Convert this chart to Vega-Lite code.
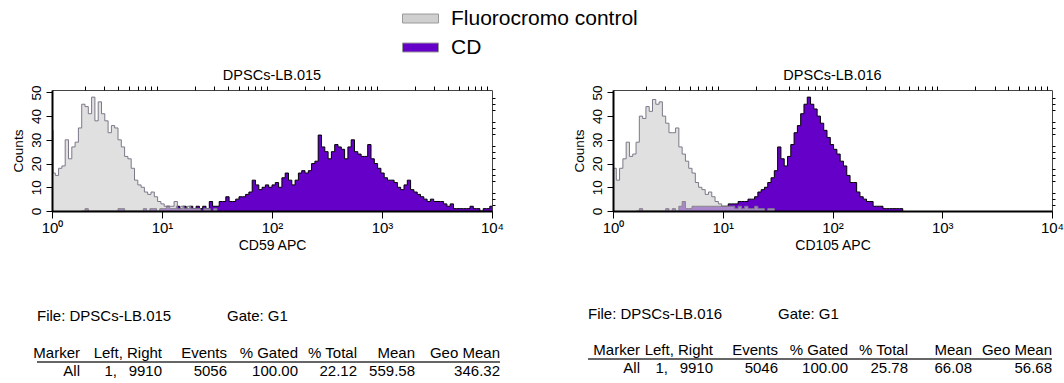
{
"$schema": "https://vega.github.io/schema/vega-lite/v6.json",
"padding": {"left": 10, "top": 0, "right": 2, "bottom": 2},
"config": {
 "font": "Liberation Sans",
 "view": {"stroke": "#444", "strokeWidth": 1},
 "title": {"fontSize": 14.5, "fontWeight": "normal", "offset": 1, "frame": "group", "color": "black", "font": "Liberation Sans"},
 "axis": {"grid": false, "labelColor": "black", "tickColor": "black", "domainColor": "black", "titleColor": "black", "titleFontWeight": "normal", "labelFont": "Liberation Sans", "titleFont": "Liberation Sans"}
},
"datasets": {
 "h015": [
  {"series":"Fluorocromo control","logv":0.00,"counts":34},{"series":"Fluorocromo control","logv":0.01,"counts":16},{"series":"Fluorocromo control","logv":0.03,"counts":15},{"series":"Fluorocromo control","logv":0.06,"counts":18},{"series":"Fluorocromo control","logv":0.09,"counts":19},{"series":"Fluorocromo control","logv":0.12,"counts":30},{"series":"Fluorocromo control","logv":0.15,"counts":22},{"series":"Fluorocromo control","logv":0.18,"counts":27},{"series":"Fluorocromo control","logv":0.21,"counts":29},{"series":"Fluorocromo control","logv":0.24,"counts":35},{"series":"Fluorocromo control","logv":0.27,"counts":45},{"series":"Fluorocromo control","logv":0.30,"counts":44},{"series":"Fluorocromo control","logv":0.33,"counts":41},{"series":"Fluorocromo control","logv":0.36,"counts":48},{"series":"Fluorocromo control","logv":0.39,"counts":38},{"series":"Fluorocromo control","logv":0.42,"counts":46},{"series":"Fluorocromo control","logv":0.45,"counts":41},{"series":"Fluorocromo control","logv":0.48,"counts":38},{"series":"Fluorocromo control","logv":0.51,"counts":33},{"series":"Fluorocromo control","logv":0.54,"counts":36},{"series":"Fluorocromo control","logv":0.57,"counts":35},{"series":"Fluorocromo control","logv":0.60,"counts":30},{"series":"Fluorocromo control","logv":0.63,"counts":27},{"series":"Fluorocromo control","logv":0.66,"counts":23},{"series":"Fluorocromo control","logv":0.69,"counts":22},{"series":"Fluorocromo control","logv":0.72,"counts":18},{"series":"Fluorocromo control","logv":0.75,"counts":13},{"series":"Fluorocromo control","logv":0.78,"counts":11},{"series":"Fluorocromo control","logv":0.81,"counts":10},{"series":"Fluorocromo control","logv":0.84,"counts":8},{"series":"Fluorocromo control","logv":0.87,"counts":7},{"series":"Fluorocromo control","logv":0.90,"counts":8},{"series":"Fluorocromo control","logv":0.93,"counts":6},{"series":"Fluorocromo control","logv":0.96,"counts":4},{"series":"Fluorocromo control","logv":0.99,"counts":3},{"series":"Fluorocromo control","logv":1.02,"counts":2},{"series":"Fluorocromo control","logv":1.05,"counts":2},{"series":"Fluorocromo control","logv":1.08,"counts":2},{"series":"Fluorocromo control","logv":1.11,"counts":4},{"series":"Fluorocromo control","logv":1.14,"counts":1},{"series":"Fluorocromo control","logv":1.17,"counts":2},{"series":"Fluorocromo control","logv":1.20,"counts":1},{"series":"Fluorocromo control","logv":1.23,"counts":2},{"series":"Fluorocromo control","logv":1.26,"counts":1},{"series":"Fluorocromo control","logv":1.29,"counts":1},{"series":"Fluorocromo control","logv":1.32,"counts":1},{"series":"Fluorocromo control","logv":1.35,"counts":0},{"series":"Fluorocromo control","logv":1.38,"counts":1},{"series":"Fluorocromo control","logv":1.41,"counts":1},{"series":"Fluorocromo control","logv":1.44,"counts":0},{"series":"Fluorocromo control","logv":1.47,"counts":1},{"series":"Fluorocromo control","logv":1.50,"counts":0},
  {"series":"CD","logv":0.27,"counts":0},{"series":"CD","logv":0.30,"counts":1},{"series":"CD","logv":0.33,"counts":0},{"series":"CD","logv":0.57,"counts":0},{"series":"CD","logv":0.60,"counts":1},{"series":"CD","logv":0.63,"counts":1},{"series":"CD","logv":0.66,"counts":0},{"series":"CD","logv":0.80,"counts":0},{"series":"CD","logv":0.83,"counts":1},{"series":"CD","logv":0.86,"counts":0},{"series":"CD","logv":0.89,"counts":1},{"series":"CD","logv":0.92,"counts":1},{"series":"CD","logv":0.95,"counts":0},{"series":"CD","logv":0.98,"counts":1},{"series":"CD","logv":1.01,"counts":1},{"series":"CD","logv":1.04,"counts":2},{"series":"CD","logv":1.07,"counts":1},{"series":"CD","logv":1.10,"counts":1},{"series":"CD","logv":1.13,"counts":2},{"series":"CD","logv":1.16,"counts":1},{"series":"CD","logv":1.19,"counts":2},{"series":"CD","logv":1.22,"counts":1},{"series":"CD","logv":1.25,"counts":2},{"series":"CD","logv":1.28,"counts":1},{"series":"CD","logv":1.31,"counts":2},{"series":"CD","logv":1.34,"counts":1},{"series":"CD","logv":1.37,"counts":2},{"series":"CD","logv":1.40,"counts":1},{"series":"CD","logv":1.43,"counts":4},{"series":"CD","logv":1.46,"counts":2},{"series":"CD","logv":1.49,"counts":2},{"series":"CD","logv":1.52,"counts":4},{"series":"CD","logv":1.55,"counts":4},{"series":"CD","logv":1.58,"counts":6},{"series":"CD","logv":1.61,"counts":4},{"series":"CD","logv":1.64,"counts":4},{"series":"CD","logv":1.67,"counts":5},{"series":"CD","logv":1.70,"counts":6},{"series":"CD","logv":1.73,"counts":6},{"series":"CD","logv":1.76,"counts":7},{"series":"CD","logv":1.79,"counts":8},{"series":"CD","logv":1.82,"counts":13},{"series":"CD","logv":1.85,"counts":11},{"series":"CD","logv":1.88,"counts":9},{"series":"CD","logv":1.91,"counts":10},{"series":"CD","logv":1.94,"counts":11},{"series":"CD","logv":1.97,"counts":10},{"series":"CD","logv":2.00,"counts":11},{"series":"CD","logv":2.03,"counts":12},{"series":"CD","logv":2.06,"counts":10},{"series":"CD","logv":2.09,"counts":14},{"series":"CD","logv":2.12,"counts":16},{"series":"CD","logv":2.15,"counts":13},{"series":"CD","logv":2.18,"counts":11},{"series":"CD","logv":2.21,"counts":13},{"series":"CD","logv":2.24,"counts":16},{"series":"CD","logv":2.27,"counts":17},{"series":"CD","logv":2.30,"counts":16},{"series":"CD","logv":2.33,"counts":17},{"series":"CD","logv":2.36,"counts":20},{"series":"CD","logv":2.39,"counts":21},{"series":"CD","logv":2.42,"counts":32},{"series":"CD","logv":2.45,"counts":27},{"series":"CD","logv":2.48,"counts":25},{"series":"CD","logv":2.51,"counts":22},{"series":"CD","logv":2.54,"counts":25},{"series":"CD","logv":2.57,"counts":28},{"series":"CD","logv":2.60,"counts":27},{"series":"CD","logv":2.63,"counts":26},{"series":"CD","logv":2.66,"counts":22},{"series":"CD","logv":2.69,"counts":27},{"series":"CD","logv":2.72,"counts":30},{"series":"CD","logv":2.75,"counts":25},{"series":"CD","logv":2.78,"counts":24},{"series":"CD","logv":2.81,"counts":23},{"series":"CD","logv":2.84,"counts":23},{"series":"CD","logv":2.87,"counts":28},{"series":"CD","logv":2.90,"counts":22},{"series":"CD","logv":2.93,"counts":20},{"series":"CD","logv":2.96,"counts":18},{"series":"CD","logv":2.99,"counts":16},{"series":"CD","logv":3.02,"counts":14},{"series":"CD","logv":3.05,"counts":13},{"series":"CD","logv":3.08,"counts":13},{"series":"CD","logv":3.11,"counts":12},{"series":"CD","logv":3.14,"counts":10},{"series":"CD","logv":3.17,"counts":9},{"series":"CD","logv":3.20,"counts":11},{"series":"CD","logv":3.23,"counts":13},{"series":"CD","logv":3.26,"counts":9},{"series":"CD","logv":3.29,"counts":8},{"series":"CD","logv":3.32,"counts":7},{"series":"CD","logv":3.35,"counts":6},{"series":"CD","logv":3.38,"counts":5},{"series":"CD","logv":3.41,"counts":4},{"series":"CD","logv":3.44,"counts":5},{"series":"CD","logv":3.47,"counts":4},{"series":"CD","logv":3.50,"counts":4},{"series":"CD","logv":3.53,"counts":4},{"series":"CD","logv":3.56,"counts":3},{"series":"CD","logv":3.59,"counts":2},{"series":"CD","logv":3.62,"counts":3},{"series":"CD","logv":3.65,"counts":1},{"series":"CD","logv":3.68,"counts":1},{"series":"CD","logv":3.71,"counts":1},{"series":"CD","logv":3.74,"counts":1},{"series":"CD","logv":3.77,"counts":1},{"series":"CD","logv":3.80,"counts":2},{"series":"CD","logv":3.83,"counts":1},{"series":"CD","logv":3.86,"counts":1},{"series":"CD","logv":3.89,"counts":0},{"series":"CD","logv":3.92,"counts":1},{"series":"CD","logv":3.95,"counts":1},{"series":"CD","logv":3.98,"counts":2},{"series":"CD","logv":4.00,"counts":2}
 ],
 "h016": [
  {"series":"Fluorocromo control","logv":0.00,"counts":18},{"series":"Fluorocromo control","logv":0.03,"counts":13},{"series":"Fluorocromo control","logv":0.06,"counts":18},{"series":"Fluorocromo control","logv":0.09,"counts":22},{"series":"Fluorocromo control","logv":0.12,"counts":29},{"series":"Fluorocromo control","logv":0.15,"counts":23},{"series":"Fluorocromo control","logv":0.18,"counts":24},{"series":"Fluorocromo control","logv":0.21,"counts":29},{"series":"Fluorocromo control","logv":0.24,"counts":40},{"series":"Fluorocromo control","logv":0.27,"counts":39},{"series":"Fluorocromo control","logv":0.30,"counts":44},{"series":"Fluorocromo control","logv":0.33,"counts":42},{"series":"Fluorocromo control","logv":0.36,"counts":47},{"series":"Fluorocromo control","logv":0.39,"counts":45},{"series":"Fluorocromo control","logv":0.42,"counts":46},{"series":"Fluorocromo control","logv":0.45,"counts":40},{"series":"Fluorocromo control","logv":0.48,"counts":37},{"series":"Fluorocromo control","logv":0.51,"counts":33},{"series":"Fluorocromo control","logv":0.54,"counts":33},{"series":"Fluorocromo control","logv":0.57,"counts":35},{"series":"Fluorocromo control","logv":0.60,"counts":27},{"series":"Fluorocromo control","logv":0.63,"counts":24},{"series":"Fluorocromo control","logv":0.66,"counts":21},{"series":"Fluorocromo control","logv":0.69,"counts":18},{"series":"Fluorocromo control","logv":0.72,"counts":16},{"series":"Fluorocromo control","logv":0.75,"counts":12},{"series":"Fluorocromo control","logv":0.78,"counts":10},{"series":"Fluorocromo control","logv":0.81,"counts":9},{"series":"Fluorocromo control","logv":0.84,"counts":7},{"series":"Fluorocromo control","logv":0.87,"counts":8},{"series":"Fluorocromo control","logv":0.90,"counts":6},{"series":"Fluorocromo control","logv":0.93,"counts":4},{"series":"Fluorocromo control","logv":0.96,"counts":3},{"series":"Fluorocromo control","logv":0.99,"counts":2},{"series":"Fluorocromo control","logv":1.02,"counts":2},{"series":"Fluorocromo control","logv":1.05,"counts":2},{"series":"Fluorocromo control","logv":1.08,"counts":2},{"series":"Fluorocromo control","logv":1.11,"counts":1},{"series":"Fluorocromo control","logv":1.14,"counts":2},{"series":"Fluorocromo control","logv":1.17,"counts":1},{"series":"Fluorocromo control","logv":1.20,"counts":2},{"series":"Fluorocromo control","logv":1.23,"counts":1},{"series":"Fluorocromo control","logv":1.26,"counts":1},{"series":"Fluorocromo control","logv":1.29,"counts":2},{"series":"Fluorocromo control","logv":1.32,"counts":1},{"series":"Fluorocromo control","logv":1.35,"counts":1},{"series":"Fluorocromo control","logv":1.38,"counts":0},{"series":"Fluorocromo control","logv":1.41,"counts":1},{"series":"Fluorocromo control","logv":1.44,"counts":1},{"series":"Fluorocromo control","logv":1.47,"counts":0},
  {"series":"CD","logv":0.21,"counts":0},{"series":"CD","logv":0.24,"counts":1},{"series":"CD","logv":0.27,"counts":0},{"series":"CD","logv":0.48,"counts":1},{"series":"CD","logv":0.51,"counts":0},{"series":"CD","logv":0.54,"counts":1},{"series":"CD","logv":0.57,"counts":0},{"series":"CD","logv":0.60,"counts":2},{"series":"CD","logv":0.63,"counts":4},{"series":"CD","logv":0.66,"counts":1},{"series":"CD","logv":0.69,"counts":1},{"series":"CD","logv":0.72,"counts":2},{"series":"CD","logv":0.75,"counts":2},{"series":"CD","logv":0.78,"counts":2},{"series":"CD","logv":0.81,"counts":2},{"series":"CD","logv":0.84,"counts":2},{"series":"CD","logv":0.87,"counts":2},{"series":"CD","logv":0.90,"counts":2},{"series":"CD","logv":0.93,"counts":2},{"series":"CD","logv":0.96,"counts":2},{"series":"CD","logv":0.99,"counts":2},{"series":"CD","logv":1.02,"counts":2},{"series":"CD","logv":1.05,"counts":3},{"series":"CD","logv":1.08,"counts":3},{"series":"CD","logv":1.11,"counts":3},{"series":"CD","logv":1.14,"counts":4},{"series":"CD","logv":1.17,"counts":4},{"series":"CD","logv":1.20,"counts":4},{"series":"CD","logv":1.23,"counts":5},{"series":"CD","logv":1.26,"counts":5},{"series":"CD","logv":1.29,"counts":6},{"series":"CD","logv":1.32,"counts":8},{"series":"CD","logv":1.35,"counts":9},{"series":"CD","logv":1.38,"counts":10},{"series":"CD","logv":1.41,"counts":12},{"series":"CD","logv":1.44,"counts":14},{"series":"CD","logv":1.47,"counts":17},{"series":"CD","logv":1.50,"counts":27},{"series":"CD","logv":1.53,"counts":22},{"series":"CD","logv":1.56,"counts":19},{"series":"CD","logv":1.59,"counts":23},{"series":"CD","logv":1.62,"counts":28},{"series":"CD","logv":1.65,"counts":33},{"series":"CD","logv":1.68,"counts":36},{"series":"CD","logv":1.71,"counts":41},{"series":"CD","logv":1.74,"counts":45},{"series":"CD","logv":1.77,"counts":48},{"series":"CD","logv":1.80,"counts":45},{"series":"CD","logv":1.83,"counts":43},{"series":"CD","logv":1.86,"counts":40},{"series":"CD","logv":1.89,"counts":37},{"series":"CD","logv":1.92,"counts":34},{"series":"CD","logv":1.95,"counts":31},{"series":"CD","logv":1.98,"counts":28},{"series":"CD","logv":2.01,"counts":26},{"series":"CD","logv":2.04,"counts":24},{"series":"CD","logv":2.07,"counts":21},{"series":"CD","logv":2.10,"counts":19},{"series":"CD","logv":2.13,"counts":15},{"series":"CD","logv":2.16,"counts":12},{"series":"CD","logv":2.19,"counts":12},{"series":"CD","logv":2.22,"counts":8},{"series":"CD","logv":2.25,"counts":6},{"series":"CD","logv":2.28,"counts":5},{"series":"CD","logv":2.31,"counts":4},{"series":"CD","logv":2.34,"counts":4},{"series":"CD","logv":2.37,"counts":2},{"series":"CD","logv":2.40,"counts":2},{"series":"CD","logv":2.43,"counts":2},{"series":"CD","logv":2.46,"counts":1},{"series":"CD","logv":2.49,"counts":1},{"series":"CD","logv":2.52,"counts":1},{"series":"CD","logv":2.55,"counts":1},{"series":"CD","logv":2.58,"counts":1},{"series":"CD","logv":2.61,"counts":1},{"series":"CD","logv":2.64,"counts":0}
 ],
 "t015": [
  {"kind":"file","line":1,"col":0,"text":"File: DPSCs-LB.015"},{"kind":"file","line":1,"col":3,"text":"Gate: G1"},
  {"kind":"cell","line":2,"col":1,"text":"Marker"},{"kind":"cell","line":2,"col":2,"text":"Left, Right"},{"kind":"cell","line":2,"col":3,"text":"Events"},{"kind":"cell","line":2,"col":4,"text":"% Gated"},{"kind":"cell","line":2,"col":5,"text":"% Total"},{"kind":"cell","line":2,"col":6,"text":"Mean"},{"kind":"cell","line":2,"col":7,"text":"Geo Mean"},
  {"kind":"cell","line":3,"col":1,"text":"All"},{"kind":"cell","line":3,"col":2,"text":"1,\u2002 9910"},{"kind":"cell","line":3,"col":3,"text":"5056"},{"kind":"cell","line":3,"col":4,"text":"100.00"},{"kind":"cell","line":3,"col":5,"text":"22.12"},{"kind":"cell","line":3,"col":6,"text":"559.58"},{"kind":"cell","line":3,"col":7,"text":"346.32"}
 ],
 "t016": [
  {"kind":"file","line":1,"col":0,"text":"File: DPSCs-LB.016"},{"kind":"file","line":1,"col":3,"text":"Gate: G1"},
  {"kind":"cell","line":2,"col":1,"text":"Marker"},{"kind":"cell","line":2,"col":2,"text":"Left, Right"},{"kind":"cell","line":2,"col":3,"text":"Events"},{"kind":"cell","line":2,"col":4,"text":"% Gated"},{"kind":"cell","line":2,"col":5,"text":"% Total"},{"kind":"cell","line":2,"col":6,"text":"Mean"},{"kind":"cell","line":2,"col":7,"text":"Geo Mean"},
  {"kind":"cell","line":3,"col":1,"text":"All"},{"kind":"cell","line":3,"col":2,"text":"1,\u2002 9910"},{"kind":"cell","line":3,"col":3,"text":"5046"},{"kind":"cell","line":3,"col":4,"text":"100.00"},{"kind":"cell","line":3,"col":5,"text":"25.78"},{"kind":"cell","line":3,"col":6,"text":"66.08"},{"kind":"cell","line":3,"col":7,"text":"56.68"}
 ]
},
"columns": 2,
"spacing": {"row": 98, "column": 121},
"bounds": "flush",
"concat": [
 {
  "width": 440, "height": 121,
  "title": {"text": "DPSCs-LB.015"},
  "data": {"name": "h015"},
  "resolve": {"axis": {"x": "independent", "y": "independent"}},
  "layer": [
   {"transform": [{"filter": "datum.series === 'CD'"}],
    "mark": {"type": "area", "interpolate": "step-after"},
    "encoding": {
     "x": {"field": "logv", "type": "quantitative", "scale": {"domain": [0, 4], "nice": false, "zero": false},
       "axis": {"values": [0, 1, 2, 3, 4], "labelExpr": "'10' + ['⁰','¹','²','³','⁴'][datum.value]", "labelFontSize": 15, "labelFlush": false, "labelOverlap": false, "tickSize": 7, "domainWidth": 2, "labelPadding": 2, "title": "CD59 APC", "titleFontSize": 14, "titlePadding": 3, "zindex": 1}},
     "y": {"field": "counts", "type": "quantitative", "stack": null, "scale": {"domain": [0, 51], "nice": false},
       "axis": {"values": [0, 10, 20, 30, 40, 50], "labelAngle": 270, "labelAlign": "center", "labelBaseline": "bottom", "labelFontSize": 13.5, "tickSize": 6, "domainWidth": 2, "labelPadding": 3, "title": "Counts", "titleFontSize": 13.5, "titlePadding": 4, "zindex": 1}},
     "color": {"field": "series", "type": "nominal",
       "scale": {"domain": ["Fluorocromo control", "CD"], "range": ["#cfcfcf", "#6500c8"]},
       "legend": {"orient": "none", "legendX": 350, "legendY": -90, "title": null, "direction": "vertical", "symbolType": "M-1,-0.25H1V0.25H-1Z", "symbolSize": 1296, "symbolStrokeColor": "#9a9a9a", "symbolStrokeWidth": 1, "symbolOpacity": 1, "labelFontSize": 21, "labelFont": "Liberation Sans", "labelColor": "black", "labelOffset": 12, "labelLimit": 400, "rowPadding": -3, "padding": 0}}
    }},
   {"transform": [{"filter": "datum.series === 'CD'"}],
    "mark": {"type": "line", "interpolate": "step-after", "color": "black", "strokeWidth": 1},
    "encoding": {"x": {"field": "logv", "type": "quantitative", "axis": null}, "y": {"field": "counts", "type": "quantitative", "axis": null}}},
   {"transform": [{"filter": "datum.series !== 'CD'"}],
    "mark": {"type": "area", "interpolate": "step-after", "color": "#cfcfcf", "opacity": 0.65},
    "encoding": {
     "x": {"field": "logv", "type": "quantitative", "axis": {"values": [0.301,0.477,0.602,0.699,0.778,0.845,0.903,0.954,1.301,1.477,1.602,1.699,1.778,1.845,1.903,1.954,2.301,2.477,2.602,2.699,2.778,2.845,2.903,2.954,3.301,3.477,3.602,3.699,3.778,3.845,3.903,3.954], "labels": false, "domain": false, "tickSize": 4, "title": null}},
     "y": {"field": "counts", "type": "quantitative", "stack": null, "axis": {"values": [2.5,5,7.5,12.5,15,17.5,22.5,25,27.5,32.5,35,37.5,42.5,45,47.5], "labels": false, "domain": false, "tickSize": 3, "title": null}}
    }},
   {"transform": [{"filter": "datum.series !== 'CD'"}],
    "mark": {"type": "line", "interpolate": "step-after", "color": "#7d7889", "strokeWidth": 1},
    "encoding": {"x": {"field": "logv", "type": "quantitative", "axis": null}, "y": {"field": "counts", "type": "quantitative", "axis": null}}}
  ]
 },
 {
  "width": 439, "height": 121,
  "title": {"text": "DPSCs-LB.016"},
  "data": {"name": "h016"},
  "resolve": {"axis": {"x": "independent", "y": "independent"}},
  "layer": [
   {"transform": [{"filter": "datum.series === 'CD'"}],
    "mark": {"type": "area", "interpolate": "step-after"},
    "encoding": {
     "x": {"field": "logv", "type": "quantitative", "scale": {"domain": [0, 4], "nice": false, "zero": false},
       "axis": {"values": [0, 1, 2, 3, 4], "labelExpr": "'10' + ['⁰','¹','²','³','⁴'][datum.value]", "labelFontSize": 15, "labelFlush": false, "labelOverlap": false, "tickSize": 7, "domainWidth": 2, "labelPadding": 2, "title": "CD105 APC", "titleFontSize": 14, "titlePadding": 3, "zindex": 1}},
     "y": {"field": "counts", "type": "quantitative", "stack": null, "scale": {"domain": [0, 51], "nice": false},
       "axis": {"values": [0, 10, 20, 30, 40, 50], "labelAngle": 270, "labelAlign": "center", "labelBaseline": "bottom", "labelFontSize": 13.5, "tickSize": 6, "domainWidth": 2, "labelPadding": 3, "title": "Counts", "titleFontSize": 13.5, "titlePadding": 4, "zindex": 1}},
     "color": {"field": "series", "type": "nominal"}
    }},
   {"transform": [{"filter": "datum.series === 'CD'"}],
    "mark": {"type": "line", "interpolate": "step-after", "color": "black", "strokeWidth": 1},
    "encoding": {"x": {"field": "logv", "type": "quantitative", "axis": null}, "y": {"field": "counts", "type": "quantitative", "axis": null}}},
   {"transform": [{"filter": "datum.series !== 'CD'"}],
    "mark": {"type": "area", "interpolate": "step-after", "color": "#cfcfcf", "opacity": 0.65},
    "encoding": {
     "x": {"field": "logv", "type": "quantitative", "axis": {"values": [0.301,0.477,0.602,0.699,0.778,0.845,0.903,0.954,1.301,1.477,1.602,1.699,1.778,1.845,1.903,1.954,2.301,2.477,2.602,2.699,2.778,2.845,2.903,2.954,3.301,3.477,3.602,3.699,3.778,3.845,3.903,3.954], "labels": false, "domain": false, "tickSize": 4, "title": null}},
     "y": {"field": "counts", "type": "quantitative", "stack": null, "axis": {"values": [2.5,5,7.5,12.5,15,17.5,22.5,25,27.5,32.5,35,37.5,42.5,45,47.5], "labels": false, "domain": false, "tickSize": 3, "title": null}}
    }},
   {"transform": [{"filter": "datum.series !== 'CD'"}],
    "mark": {"type": "line", "interpolate": "step-after", "color": "#7d7889", "strokeWidth": 1},
    "encoding": {"x": {"field": "logv", "type": "quantitative", "axis": null}, "y": {"field": "counts", "type": "quantitative", "axis": null}}}
  ]
 },
 {
  "width": 440, "height": 70,
  "view": {"stroke": null},
  "data": {"name": "t015"},
  "layer": [
   {"transform": [{"filter": "datum.kind === 'file'"}],
    "mark": {"type": "text", "align": "left", "baseline": "middle", "fontSize": 15, "color": "black"},
    "encoding": {
     "x": {"field": "col", "type": "quantitative", "scale": {"domain": [0,1,2,3,4,5,6,7], "range": [-15,28,110,175,246,305,363,448], "zero": false, "nice": false}, "axis": null},
     "y": {"field": "line", "type": "quantitative", "scale": {"domain": [1,2,3], "range": [7,44,62], "zero": false, "nice": false}, "axis": null},
     "text": {"field": "text"}}},
   {"transform": [{"filter": "datum.kind === 'cell'"}],
    "mark": {"type": "text", "align": "right", "baseline": "middle", "fontSize": 15, "color": "black"},
    "encoding": {
     "x": {"field": "col", "type": "quantitative", "axis": null},
     "y": {"field": "line", "type": "quantitative", "axis": null},
     "text": {"field": "text"}}},
   {"data": {"values": [{"from": 0, "to": 7, "at": 2.5}]},
    "mark": {"type": "rule", "color": "#333", "strokeWidth": 1.5},
    "encoding": {"x": {"field": "from", "type": "quantitative", "axis": null}, "x2": {"field": "to"}, "y": {"field": "at", "type": "quantitative", "axis": null}}}
  ]
 },
 {
  "width": 439, "height": 70,
  "view": {"stroke": null},
  "data": {"name": "t016"},
  "layer": [
   {"transform": [{"filter": "datum.kind === 'file'"}],
    "mark": {"type": "text", "align": "left", "baseline": "middle", "fontSize": 15, "color": "black"},
    "encoding": {
     "x": {"field": "col", "type": "quantitative", "scale": {"domain": [0,1,2,3,4,5,6,7], "range": [-25,27,100,165,235,295,359,439], "zero": false, "nice": false}, "axis": null},
     "y": {"field": "line", "type": "quantitative", "scale": {"domain": [1,2,3], "range": [5,41,59], "zero": false, "nice": false}, "axis": null},
     "text": {"field": "text"}}},
   {"transform": [{"filter": "datum.kind === 'cell'"}],
    "mark": {"type": "text", "align": "right", "baseline": "middle", "fontSize": 15, "color": "black"},
    "encoding": {
     "x": {"field": "col", "type": "quantitative", "axis": null},
     "y": {"field": "line", "type": "quantitative", "axis": null},
     "text": {"field": "text"}}},
   {"data": {"values": [{"from": 0, "to": 7, "at": 2.5}]},
    "mark": {"type": "rule", "color": "#333", "strokeWidth": 1.5},
    "encoding": {"x": {"field": "from", "type": "quantitative", "axis": null}, "x2": {"field": "to"}, "y": {"field": "at", "type": "quantitative", "axis": null}}}
  ]
 }
]
}
